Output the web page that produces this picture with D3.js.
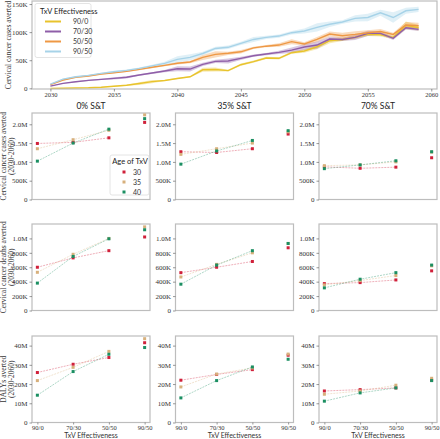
<!DOCTYPE html>
<html><head><meta charset="utf-8">
<script src="https://cdn.jsdelivr.net/npm/d3@7"></script>
<style>body{margin:0;background:#fff}svg{display:block}</style>
</head><body>
<svg id="c" width="440" height="439"></svg>
<script>
// ---------- DATA ----------
const years = [2030,2031,2032,2033,2034,2035,2036,2037,2038,2039,2040,2041,2042,2043,2044,2045,2046,2047,2048,2049,2050,2051,2052,2053,2054,2055,2056,2057,2058,2059];
const effLabels = ["90/0","70/30","50/50","90/50"];
// yearly cases averted (thousands)
const tv90_0  = [0,0.2,0.5,1,2,3.8,5.5,8.5,12,14,17.6,20.6,33,33.5,31.5,42,47.4,54,53.4,63.4,66.4,74,84.7,87,90.7,96,95.4,90.7,112,107.8];
const tv70_30 = [4,8.9,11.8,14.2,16,17.8,19.6,23.7,27.2,30.8,34.9,34.3,42.7,48,48.6,53.4,58,61,64,68,73.5,77,87.7,87,90.7,97.8,97.8,89,107.8,105];
const tv50_50 = [6.5,14.8,19.6,21.9,25.4,27.8,30.2,33.8,37.4,40.9,44.5,46.8,55,60.5,62.3,65,72,75,77,83,79,87,96.6,93.6,96,99,101,96,112.6,111.4];
const tv90_50 = [7.6,16.5,20.7,23,26.7,29.6,32,35.6,40,44.5,51.6,55,62,71,73,80,87,90.7,93,99,102,108.5,114,118,124.5,126,134.5,126,138,140.5];
// half-width of uncertainty bands (thousands)
const ci90_0  = [0,0,0,0.5,0.5,1,1,2.5,3,1,1,1,3.5,3.5,1.5,2,2,2,2,2,3,4.5,4.5,3,3,3,3,3,7,5];
const ci70_30 = [0.5,0.5,1,1,1,2,2,1.5,1.5,2,4.5,4.5,3,3,4.5,3,2,2,3,4.5,5.5,6.5,4,3,4.5,4.5,3,3,3,3];
const ci50_50 = [0.5,1,1,1,1,1,1,1.5,1.5,1.5,2,2,4.5,5.5,3,3,2,2,3,4.5,3,4.5,4.5,5.5,5.5,4.5,4.5,3,5.5,5.5];
const ci90_50 = [0.5,1,1,1,1,1.5,1.5,1.5,2,3,5.5,5.5,3,3,3,3,4.5,3,3,3,4.5,7.5,5,3,5.5,6.5,5.5,9.5,5.5,4.5];

const sntLevels = ["0% S&T","35% S&T","70% S&T"];
const ages = ["30","35","40"];
// cumulative averted 2030-2060: [S&T level][age][effectiveness]
const casesAverted = [   // millions
  [[1.49,1.52,1.64,2.05],[1.35,1.59,1.84,2.25],[1.02,1.50,1.87,2.15]],
  [[1.27,1.25,1.35,1.74],[1.20,1.35,1.50,1.80],[0.94,1.29,1.57,1.83]],
  [[0.87,0.83,0.86,1.11],[0.90,0.92,1.00,1.26],[0.82,0.92,1.03,1.27]]
];
const deathsAverted = [  // millions
  [[0.60,0.73,0.83,1.02],[0.53,0.78,1.00,1.16],[0.38,0.75,0.995,1.12]],
  [[0.525,0.60,0.68,0.87],[0.465,0.64,0.80,0.93],[0.365,0.63,0.83,0.93]],
  [[0.373,0.387,0.424,0.55],[0.355,0.415,0.485,0.62],[0.314,0.434,0.525,0.63]]
];
const dalysAverted = [   // millions
  [[26,30.3,33.8,41.5],[21.8,28.7,37,43.6],[14.2,26.5,35.5,39]],
  [[22,25,27.5,35],[18.5,25.2,28.4,35.6],[12.8,21.8,28.9,32.9]],
  [[16.4,17.1,18,22],[14.7,16.4,19.4,23],[11.1,15.4,18,21.8]]
];
const topYTicks = [0,50,100,150];
const topXTicks = [2030,2035,2040,2045,2050,2055,2060];

// ---------- STYLE ----------
const serif = "'Liberation Serif','DejaVu Serif',serif";
const sans = "Lato,'Open Sans',sans-serif";
const frameCol = "#bdbdbd";
const tickCol = "#555";
const lineCols = {"90/0":"#e8c32c","70/30":"#8f5ea8","50/50":"#ee9844","90/50":"#a7d3e8"};
const ageCols = ["#d0203a","#d7b07c","#1b8f62"];

const svg = d3.select("#c");

function frame(g, w, h){
  g.append("rect").attr("x",0).attr("y",0).attr("width",w).attr("height",h)
    .attr("fill","none").attr("stroke",frameCol).attr("stroke-width",1.2);
}
function styleAxis(a, fs){
  a.select(".domain").remove();
  a.selectAll(".tick line").attr("stroke",tickCol).attr("stroke-width",0.6);
  a.selectAll(".tick text").attr("font-family",serif).attr("font-size",fs||7).attr("fill","#333");
}

// ---------- TOP CHART ----------
const T = {l:32, t:1, w:405, h:88};
const gT = svg.append("g").attr("transform",`translate(${T.l},${T.t})`);
const xT = d3.scaleLinear().domain([2028.55,2060.45]).range([0,T.w]);
const yT = d3.scaleLinear().domain([-1.2,155.4]).range([T.h,0]);
const series = [
  {name:"90/0", v:tv90_0, ci:ci90_0},
  {name:"70/30", v:tv70_30, ci:ci70_30},
  {name:"50/50", v:tv50_50, ci:ci50_50},
  {name:"90/50", v:tv90_50, ci:ci90_50}
];
const area = d3.area().x((d,i)=>xT(years[i])).y0(d=>yT(d[0])).y1(d=>yT(d[1]));
const line = d3.line().x((d,i)=>xT(years[i])).y(d=>yT(d));
series.forEach(s=>{
  gT.append("path").datum(s.v.map((v,i)=>[Math.max(v-s.ci[i],0),v+s.ci[i]]))
    .attr("d",area).attr("fill",lineCols[s.name]).attr("opacity",0.35);
});
series.forEach(s=>{
  gT.append("path").datum(s.v).attr("d",line).attr("fill","none")
    .attr("stroke",lineCols[s.name]).attr("stroke-width",1.4);
});
frame(gT,T.w,T.h);
const axYT = gT.append("g").call(d3.axisLeft(yT).tickValues(topYTicks).tickSize(2.5).tickPadding(2)
  .tickFormat(d=>d===0?"0":d+"K"));
styleAxis(axYT);
const axXT = gT.append("g").attr("transform",`translate(0,${T.h})`)
  .call(d3.axisBottom(xT).tickValues(topXTicks).tickSize(2.5).tickPadding(1).tickFormat(d3.format("d")));
styleAxis(axXT, 6.5);
svg.append("text").attr("transform",`translate(11,${T.t+T.h/2}) rotate(-90)`)
  .attr("text-anchor","middle").attr("font-family",serif).attr("font-size",7.5).attr("fill","#333")
  .text("Cervical cancer cases averted");
// legend
const lg = gT.append("g").attr("transform","translate(3,2.5)");
lg.append("rect").attr("width",56).attr("height",54).attr("rx",2).attr("fill","#fff").attr("fill-opacity",0.85)
  .attr("stroke","#ddd").attr("stroke-width",0.8);
lg.append("text").attr("x",5).attr("y",10).attr("font-family",sans).attr("font-size",7.5).attr("fill","#222").text("TxV Effectiveness");
series.forEach((s,i)=>{
  const y = 18 + i*10;
  lg.append("line").attr("x1",10).attr("x2",26).attr("y1",y).attr("y2",y)
    .attr("stroke",lineCols[s.name]).attr("stroke-width",2);
  lg.append("text").attr("x",38).attr("y",y+2.5).attr("font-family",sans).attr("font-size",7).attr("fill","#333").text(s.name);
});

// ---------- GRID ----------
const colX = [32,175.5,319];
const rowY = [113,224,336];
const PW = 118, PH = 86.5;
const rows = [
  {data:casesAverted, max:2.3, ticks:[0,0.5,1,1.5,2], fmt:d=>d===0?"0":(d<1?(d*1000)+"K":d.toFixed(1)+"M"),
   lab:["Cervical cancer cases averted","(2030-2060)"]},
  {data:deathsAverted, max:1.2, ticks:[0,0.2,0.4,0.6,0.8,1.0], fmt:d=>d===0?"0":(d<1?Math.round(d*1000)+"K":d.toFixed(1)+"M"),
   lab:["Cervical cancer deaths averted","(2030-2060)"]},
  {data:dalysAverted, max:45, ticks:[0,10,20,30,40], fmt:d=>d===0?"0":d+"M",
   lab:["DALYs averted","(2030-2060)"]}
];
const xP = d3.scaleLinear().domain([-0.15,3.15]).range([0,PW]);
rows.forEach((r,ri)=>{
  const yP = d3.scaleLinear().domain([0,r.max]).range([PH,0]);
  sntLevels.forEach((lvl,ci)=>{
    const g = svg.append("g").attr("transform",`translate(${colX[ci]},${rowY[ri]})`);
    frame(g,PW,PH);
    const ay = g.append("g").call(d3.axisLeft(yP).tickValues(r.ticks).tickSize(2.5).tickPadding(2).tickFormat(r.fmt));
    styleAxis(ay);
    if(ri===2){
      const ax = g.append("g").attr("transform",`translate(0,${PH})`)
        .call(d3.axisBottom(xP).tickValues([0,1,2,3]).tickSize(2).tickPadding(0.5).tickFormat(i=>effLabels[i]));
      styleAxis(ax, 6.5);
      g.append("text").attr("x",PW/2).attr("y",PH+15.3).attr("text-anchor","middle")
        .attr("font-family",sans).attr("font-size",7).attr("fill","#333").text("TxV Effectiveness");
    }
    if(ri===0){
      g.append("text").attr("x",PW/2).attr("y",-4).attr("text-anchor","middle")
        .attr("font-family",sans).attr("font-size",8.5).attr("fill","#222").text(lvl);
    }
    const ln = d3.line().x((d,i)=>xP(i)).y(d=>yP(d));
    ages.forEach((a,ai)=>{
      const vals = r.data[ci][ai];
      g.append("path").datum(vals.slice(0,3)).attr("d",ln).attr("fill","none")
        .attr("stroke",ageCols[ai]).attr("stroke-width",0.8).attr("stroke-opacity",0.45)
        .attr("stroke-dasharray","2,1");
    });
    ages.forEach((a,ai)=>{
      const vals = r.data[ci][ai];
      g.selectAll(null).data(vals).enter().append("rect")
        .attr("x",(d,i)=>xP(i)-1.5).attr("y",d=>yP(d)-1.5).attr("width",3).attr("height",3)
        .attr("fill",ageCols[ai]);
    });
  });
  svg.append("text").attr("transform",`translate(6,${rowY[ri]+PH/2}) rotate(-90)`)
    .attr("text-anchor","middle").attr("font-family",serif).attr("font-size",7.5).attr("fill","#333")
    .text(r.lab[0]);
  svg.append("text").attr("transform",`translate(14,${rowY[ri]+PH/2}) rotate(-90)`)
    .attr("text-anchor","middle").attr("font-family",serif).attr("font-size",7.5).attr("fill","#333")
    .text(r.lab[1]);
});
// age legend in first panel
const al = svg.append("g").attr("transform",`translate(${colX[0]+78},${rowY[0]+42})`);
al.append("rect").attr("width",39).attr("height",40).attr("rx",2).attr("fill","#fff").attr("fill-opacity",0.85)
  .attr("stroke","#ddd").attr("stroke-width",0.8);
al.append("text").attr("x",20).attr("y",9).attr("text-anchor","middle").attr("font-family",sans).attr("font-size",7.5).attr("fill","#222").text("Age of TxV");
ages.forEach((a,ai)=>{
  const y = 17 + ai*10;
  al.append("rect").attr("x",12.5).attr("y",y-1.5).attr("width",3).attr("height",3).attr("fill",ageCols[ai]);
  al.append("text").attr("x",31).attr("y",y+2.5).attr("text-anchor","end").attr("font-family",sans).attr("font-size",7).attr("fill","#333").text(a);
});
</script>
</body></html>
